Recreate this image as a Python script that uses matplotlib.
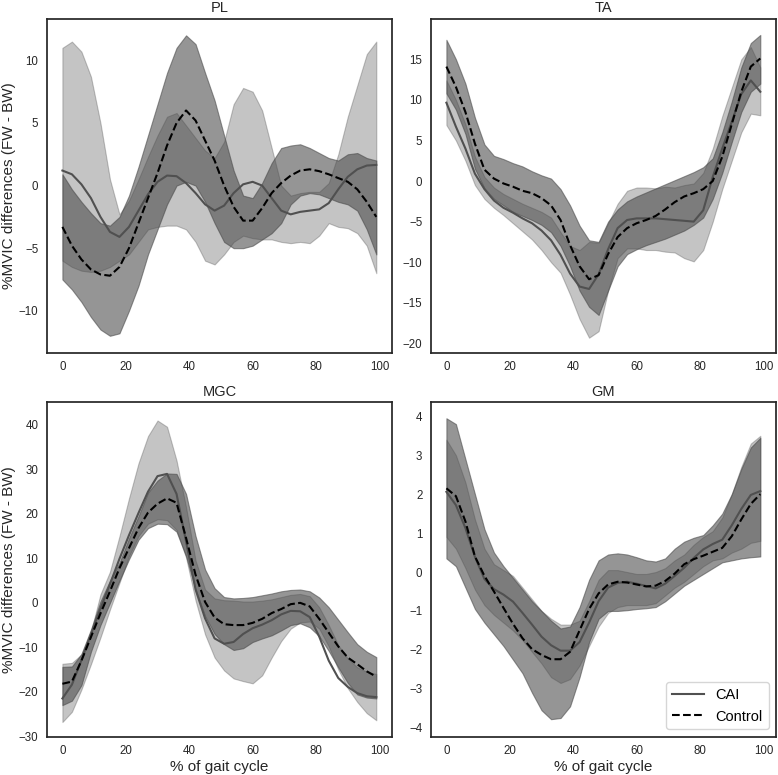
import numpy as np
import matplotlib
matplotlib.use("Agg")
import matplotlib.pyplot as plt

plt.rcParams['font.family'] = ['Liberation Sans', 'DejaVu Sans']

# % of gait cycle sample points
gait = [0, 3, 6, 9, 12, 15, 18, 21, 24, 27, 30, 33, 36, 39, 42, 45, 48, 51, 54,
        57, 60, 63, 66, 69, 72, 75, 78, 81, 84, 87, 90, 93, 96, 99]

# ---------------- PL ----------------
pl_cai = [1.2, 0.9, 0.1, -1.0, -2.5, -3.7, -4.1, -3.3, -2.0, -0.7, 0.3, 0.8, 0.75, 0.2,
          -0.6, -1.5, -2.0, -1.6, -0.6, 0.1, 0.3, 0.0, -1.0, -2.0, -2.3, -2.1, -2.0, -1.9,
          -1.4, -0.3, 0.7, 1.3, 1.6, 1.65]
pl_ctrl = [-3.3, -4.8, -5.9, -6.7, -7.1, -7.2, -6.5, -5.0, -3.0, -1.0, 1.0, 3.2, 5.0, 6.0,
           5.2, 3.6, 2.0, 0.0, -1.7, -2.8, -2.8, -1.8, -0.6, 0.2, 0.8, 1.2, 1.3, 1.15,
           0.9, 0.6, 0.3, -0.3, -1.3, -2.5]
pl_cai_lo = [-6.0, -6.5, -6.8, -6.9, -6.8, -6.5, -6.0, -5.5, -4.5, -3.5, -3.3, -3.2, -3.2,
             -3.5, -4.5, -6.0, -6.3, -5.5, -4.5, -4.0, -4.2, -4.3, -4.3, -4.5, -4.6, -4.5,
             -4.6, -4.0, -3.0, -3.3, -3.4, -3.8, -4.8, -7.0]
pl_cai_hi = [11.0, 11.5, 10.7, 8.7, 5.0, 0.5, -2.3, -1.2, 0.5, 2.3, 4.0, 5.5, 5.8, 4.8,
             3.8, 2.8, 2.2, 3.5, 6.5, 7.8, 7.5, 6.0, 3.0, 0.0, -0.8, -0.6, -0.5, -0.5,
             0.2, 2.5, 5.5, 8.0, 10.5, 11.5]
pl_ctrl_lo = [-7.5, -8.3, -9.3, -10.5, -11.5, -12.0, -11.8, -10.0, -8.0, -5.5, -3.5, -1.5,
              0.0, 0.3, 0.0, -1.3, -3.0, -4.5, -5.0, -5.0, -4.8, -4.3, -3.8, -3.0, -1.5,
              -0.8, -0.6, -0.7, -1.0, -1.3, -1.5, -2.0, -3.5, -5.5]
pl_ctrl_hi = [0.9, -0.3, -1.3, -2.2, -3.0, -3.2, -2.5, -0.8, 1.5, 4.0, 6.5, 9.0, 11.0,
              12.0, 11.3, 9.0, 6.8, 4.0, 1.2, -0.8, -1.0, 0.2, 1.8, 3.0, 3.2, 3.3, 3.0,
              2.6, 2.2, 2.0, 2.5, 2.6, 2.2, 2.0]

# ---------------- TA ----------------
ta_cai = [9.65, 6.7, 4.0, 0.9, -1.0, -2.4, -3.3, -3.9, -4.6, -5.2, -6.1, -7.3, -9.1, -11.4,
          -13.0, -13.3, -11.5, -8.4, -5.8, -4.8, -4.6, -4.6, -4.6, -4.7, -4.8, -4.9, -5.0,
          -3.6, 0.5, 4.0, 7.3, 10.7, 12.4, 11.0]
ta_ctrl = [14.1, 11.6, 8.5, 4.6, 1.4, 0.3, -0.3, -0.7, -1.2, -1.5, -2.1, -3.0, -4.8, -7.9,
           -10.5, -12.1, -11.6, -9.0, -6.9, -5.8, -5.2, -4.8, -4.3, -3.5, -2.6, -1.9, -1.5,
           -1.0, 0.0, 3.0, 7.0, 11.0, 14.1, 15.1]
ta_cai_lo = [6.9, 5.0, 2.5, -0.5, -2.2, -3.3, -4.2, -5.2, -6.2, -7.2, -8.5, -10.0, -11.3,
             -14.0, -17.0, -19.3, -18.5, -13.5, -9.5, -8.3, -8.3, -8.5, -8.5, -8.7, -8.8,
             -9.5, -9.9, -8.5, -5.0, -1.0, 2.5, 6.0, 8.3, 8.1]
ta_cai_hi = [12.4, 10.0, 7.0, 3.0, 0.5, -0.8, -1.6, -2.2, -2.8, -3.3, -3.8, -4.5, -6.3,
             -8.0, -8.5, -7.5, -7.6, -5.2, -2.8, -1.2, -0.8, -0.8, -0.9, -0.7, -0.8, -0.5,
             -0.3, 1.0, 4.0, 8.0, 11.5, 15.0, 16.5, 14.0]
ta_ctrl_lo = [10.8, 8.8, 5.8, 1.5, -0.9, -2.2, -3.0, -3.8, -4.3, -4.8, -5.4, -6.3, -8.0,
              -10.5, -13.5, -15.5, -16.5, -13.5, -10.5, -9.0, -8.4, -7.9, -7.5, -7.1, -6.6,
              -6.1, -5.4, -4.5, -2.2, 1.0, 4.8, 8.5, 11.0, 12.0]
ta_ctrl_hi = [17.4, 15.0, 12.0, 7.8, 4.5, 3.1, 2.7, 2.2, 1.8, 1.2, 0.7, 0.3, -1.0, -3.0,
              -5.5, -7.3, -7.5, -5.0, -3.5, -2.5, -1.9, -1.4, -0.9, -0.4, 0.1, 0.6, 1.1,
              1.7, 2.8, 6.0, 9.8, 14.0, 17.0, 18.0]

# ---------------- MGC ----------------
mgc_cai = [-21.5, -18.4, -12.9, -7.1, -1.3, 4.2, 9.9, 15.2, 20.2, 25.0, 28.5, 29.0, 24.5,
           13.8, 3.0, -3.5, -8.0, -9.2, -8.8, -7.0, -5.7, -4.9, -3.9, -2.6, -1.8, -1.9,
           -3.2, -7.6, -13.0, -16.9, -18.9, -20.3, -21.0, -21.2]
mgc_ctrl = [-18.2, -17.7, -13.0, -7.7, -2.4, 2.6, 7.8, 12.3, 16.8, 20.3, 22.3, 23.5, 22.5,
            14.6, 6.3, 0.2, -3.3, -4.8, -5.0, -5.0, -4.5, -3.6, -2.3, -1.4, -0.3, 0.0,
            -0.8, -3.6, -6.7, -9.8, -12.3, -13.8, -15.4, -16.6]
mgc_cai_lo = [-26.8, -24.5, -19.5, -13.8, -7.8, -1.5, 4.5, 10.5, 15.0, 17.8, 18.8, 18.6,
              16.4, 10.2, 0.5, -7.1, -12.3, -15.2, -17.0, -17.6, -18.1, -16.3, -12.3,
              -8.6, -5.8, -4.4, -4.2, -5.8, -9.8, -15.0, -19.2, -22.3, -24.8, -26.4]
mgc_cai_hi = [-13.7, -13.5, -11.6, -6.5, 1.9, 7.0, 15.0, 23.5, 31.4, 37.5, 41.0, 39.6,
              32.0, 21.5, 9.5, 3.0, 1.0, 0.6, 0.5, 0.3, 0.3, 0.5, 0.8, 1.3, 1.8, 2.0, 1.5,
              -1.0, -5.0, -9.5, -12.5, -14.5, -15.5, -16.0]
mgc_ctrl_lo = [-23.0, -22.0, -18.5, -11.0, -5.0, 0.0, 5.0, 9.8, 14.2, 16.8, 17.8, 17.7,
               16.0, 10.5, 3.0, -3.0, -7.0, -9.3, -10.6, -10.2, -8.8, -8.0, -7.3, -6.2,
               -5.0, -4.6, -5.5, -7.5, -10.8, -14.5, -18.0, -20.6, -21.3, -21.5]
mgc_ctrl_hi = [-14.4, -14.3, -11.5, -6.0, 0.3, 5.0, 9.0, 14.5, 19.5, 24.8, 27.5, 29.1,
               29.0, 24.5, 15.0, 7.5, 3.3, 1.3, 1.0, 1.1, 1.3, 1.7, 2.1, 2.6, 2.9, 3.0,
               2.6, 1.2, -1.0, -3.8, -6.6, -9.3, -11.0, -12.2]

# ---------------- GM ----------------
gm_cai = [2.06, 1.72, 1.13, 0.39, -0.18, -0.44, -0.58, -0.76, -1.05, -1.35, -1.66, -1.88,
          -2.02, -2.02, -1.80, -1.30, -0.75, -0.40, -0.28, -0.25, -0.30, -0.36, -0.42,
          -0.30, -0.10, 0.11, 0.36, 0.58, 0.72, 0.83, 1.20, 1.62, 1.98, 2.08]
gm_ctrl = [2.15, 1.95, 1.30, 0.40, -0.10, -0.50, -0.92, -1.33, -1.70, -1.98, -2.13, -2.24,
           -2.24, -2.05, -1.50, -0.95, -0.55, -0.32, -0.25, -0.27, -0.32, -0.37, -0.35,
           -0.23, -0.04, 0.20, 0.33, 0.42, 0.52, 0.62, 0.92, 1.35, 1.75, 2.00]
gm_cai_lo = [0.9, 0.6, 0.1, -0.45, -0.85, -1.1, -1.3, -1.5, -1.75, -2.05, -2.35, -2.7,
             -2.85, -2.75, -2.4, -1.9, -1.4, -1.05, -0.9, -0.85, -0.85, -0.85, -0.8, -0.6,
             -0.4, -0.25, -0.05, 0.15, 0.3, 0.35, 0.5, 0.6, 0.75, 0.8]
gm_cai_hi = [3.4, 3.0, 2.3, 1.35, 0.6, 0.2, 0.05, -0.1, -0.4, -0.7, -1.0, -1.2, -1.35,
             -1.35, -1.25, -0.75, -0.2, 0.05, 0.05, 0.0, -0.05, -0.05, 0.0, 0.1, 0.3, 0.45,
             0.7, 0.9, 1.05, 1.4, 2.0, 2.7, 3.3, 3.5]
gm_ctrl_lo = [0.35, 0.15, -0.4, -0.95, -1.3, -1.6, -1.9, -2.25, -2.6, -3.1, -3.55, -3.78,
              -3.75, -3.45, -2.7, -1.8, -1.2, -1.0, -1.0, -0.98, -0.95, -0.93, -0.9, -0.75,
              -0.55, -0.35, -0.2, -0.05, 0.1, 0.25, 0.3, 0.35, 0.38, 0.4]
gm_ctrl_hi = [3.95, 3.8, 2.9, 2.0, 1.1, 0.5, 0.15, -0.15, -0.45, -0.75, -1.0, -1.25, -1.45,
              -1.4, -0.9, -0.2, 0.3, 0.45, 0.48, 0.45, 0.38, 0.3, 0.27, 0.35, 0.6, 0.78,
              0.88, 0.95, 1.2, 1.5, 2.0, 2.65, 3.2, 3.45]

titles = ["PL", "TA", "MGC", "GM"]
xticks = [0, 20, 40, 60, 80, 100]
yticks_list = [[-10, -5, 0, 5, 10],
               [-20, -15, -10, -5, 0, 5, 10, 15],
               [-30, -20, -10, 0, 10, 20, 30, 40],
               [-4, -3, -2, -1, 0, 1, 2, 3, 4]]
ylims = [(-13.35, 13.33), (-21.15, 20.0), (-30.1, 45.1), (-4.23, 4.36)]

panels = [
    (pl_cai, pl_ctrl, pl_cai_lo, pl_cai_hi, pl_ctrl_lo, pl_ctrl_hi),
    (ta_cai, ta_ctrl, ta_cai_lo, ta_cai_hi, ta_ctrl_lo, ta_ctrl_hi),
    (mgc_cai, mgc_ctrl, mgc_cai_lo, mgc_cai_hi, mgc_ctrl_lo, mgc_ctrl_hi),
    (gm_cai, gm_ctrl, gm_cai_lo, gm_cai_hi, gm_ctrl_lo, gm_ctrl_hi),
]

W, H = 778, 775
fig = plt.figure(figsize=(W / 100, H / 100), dpi=100)

boxes = [(46.7, 18.7, 392, 352.7), (430.7, 18.7, 776, 352.7),
         (46.7, 402.3, 392, 736.7), (430.7, 402.3, 776, 736.7)]

band_color = '#494949'
edge = '#262626'

for i, (box, data) in enumerate(zip(boxes, panels)):
    x0, y0, x1, y1 = box
    ax = fig.add_axes([x0 / W, 1 - y1 / H, (x1 - x0) / W, (y1 - y0) / H])
    cai, ctrl, clo, chi, klo, khi = data
    ax.fill_between(gait, clo, chi, color=band_color, alpha=0.32, linewidth=0.8)
    ax.fill_between(gait, klo, khi, color=band_color, alpha=0.58, linewidth=0.8)
    ax.plot(gait, cai, color='#505050', lw=1.5, label='CAI', solid_joinstyle='round')
    ax.plot(gait, ctrl, color='black', lw=1.5, ls='--', label='Control')
    ax.set_xlim(-4.95, 103.95)
    ax.set_ylim(*ylims[i])
    ax.set_xticks(xticks)
    ax.set_yticks(yticks_list[i])
    ax.tick_params(length=0, labelsize=8.3, pad=6, colors=edge)
    for s in ax.spines.values():
        s.set_color(edge)
        s.set_linewidth(1.25)
    ax.set_title(titles[i], fontsize=10.5, color=edge, pad=4.5)
    if i in (0, 2):
        ax.set_ylabel('%MVIC differences (FW - BW)', fontsize=11, color=edge)
        ax.yaxis.set_label_coords(-0.09, 0.5)
    if i in (2, 3):
        ax.set_xlabel('% of gait cycle', fontsize=11, color=edge, labelpad=2)
    if i == 3:
        ax.legend(loc='lower right', fontsize=10.5, handlelength=2.2,
                  edgecolor='#cccccc', fancybox=True)

fig.savefig('out.png', dpi=100)
